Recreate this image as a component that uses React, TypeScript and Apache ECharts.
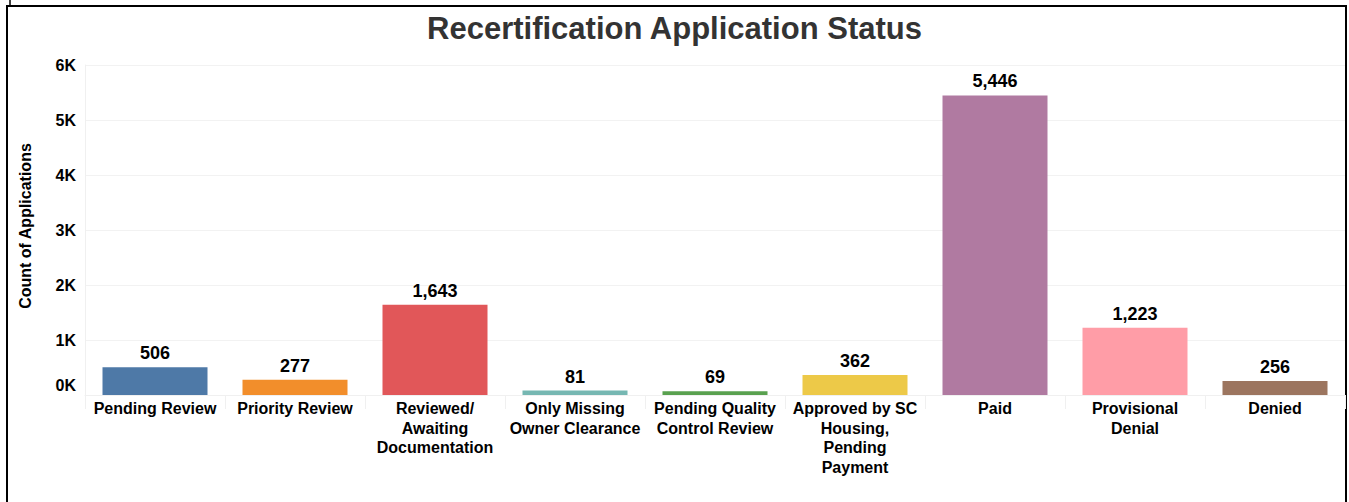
import React, { useEffect, useRef } from "react";
import * as echarts from "echarts";

const categories = [
  "Pending Review",
  "Priority Review",
  "Reviewed/\nAwaiting\nDocumentation",
  "Only Missing\nOwner Clearance",
  "Pending Quality\nControl Review",
  "Approved by SC\nHousing,\nPending\nPayment",
  "Paid",
  "Provisional\nDenial",
  "Denied",
];
const counts = [506, 277, 1643, 81, 69, 362, 5446, 1223, 256];
const colors = ["#4e79a7", "#f28e2b", "#e15759", "#76b7b2", "#59a14f", "#edc948", "#b07aa1", "#ff9da7", "#9c755f"];
const yTicks = [0, 1000, 2000, 3000, 4000, 5000, 6000];

const FONT = "'Liberation Sans', Arial, sans-serif";

export default function App() {
  const ref = useRef<HTMLDivElement>(null);
  useEffect(() => {
    if (!ref.current) return;
    const chart = echarts.init(ref.current, null, { renderer: "svg" });
    chart.setOption({
      animation: false,
      backgroundColor: "#ffffff",
      textStyle: { fontFamily: FONT },
      title: {
        text: "Recertification Application Status",
        left: "center",
        top: 8,
        textStyle: { fontFamily: FONT, fontSize: 31, fontWeight: "bold", color: "#333333" },
      },
      graphic: [
        { type: "rect", shape: { x: 7, y: 6, width: 1339, height: 510 }, style: { fill: "none", stroke: "#000", lineWidth: 2 }, silent: true },
        { type: "line", shape: { x1: 10, y1: 0, x2: 10, y2: 6 }, style: { stroke: "#000", lineWidth: 1.5 }, silent: true },
        {
          type: "text",
          x: 25,
          y: 226,
          rotation: Math.PI / 2,
          style: {
            text: "Count of Applications",
            font: `bold 16px ${FONT}`,
            fill: "#000",
            textAlign: "center",
            textVerticalAlign: "middle",
          },
        },
      ],
      grid: { left: 85, right: 4, top: 65, bottom: 107, containLabel: false },
      xAxis: {
        type: "category",
        data: categories,
        axisLine: { show: true, lineStyle: { color: "#f0f0f0" } },
        axisTick: { show: true, alignWithLabel: false, length: 14, lineStyle: { color: "#f0f0f0" } },
        axisLabel: {
          interval: 0,
          fontFamily: FONT,
          fontSize: 16,
          fontWeight: "bold",
          color: "#000",
          lineHeight: 19.5,
          margin: 4,
          verticalAlign: "top",
        },
        splitLine: { show: false },
      },
      yAxis: {
        type: "value",
        min: 0,
        max: 6000,
        interval: 1000,
        axisLine: { show: true, lineStyle: { color: "#f0f0f0" } },
        axisTick: { show: false },
        splitLine: { show: true, lineStyle: { color: "#f2f2f2" } },
        axisLabel: {
          fontFamily: FONT,
          fontSize: 16,
          fontWeight: "bold",
          color: "#000",
          margin: 9,
          formatter: (v: number) => {
            if (!yTicks.includes(v)) return "";
            return v === 0 ? "{z|0K}" : v / 1000 + "K";
          },
          rich: {
            z: { fontFamily: FONT, fontSize: 16, fontWeight: "bold", color: "#000", padding: [0, 0, 20, 0] },
          },
        },
      },
      series: [
        {
          type: "bar",
          barWidth: "75%",
          data: counts.map((v, i) => ({ value: v, itemStyle: { color: colors[i] } })),
          label: {
            show: true,
            position: "top",
            distance: 5,
            fontFamily: FONT,
            fontSize: 18,
            fontWeight: "bold",
            color: "#000",
            formatter: (p: any) => Number(p.value).toLocaleString("en-US"),
          },
        },
      ],
    });
    return () => chart.dispose();
  }, []);
  return (
    <div
      ref={ref}
      style={{ position: "fixed", left: 0, top: 0, width: 1349, height: 502, background: "#fff" }}
    />
  );
}
